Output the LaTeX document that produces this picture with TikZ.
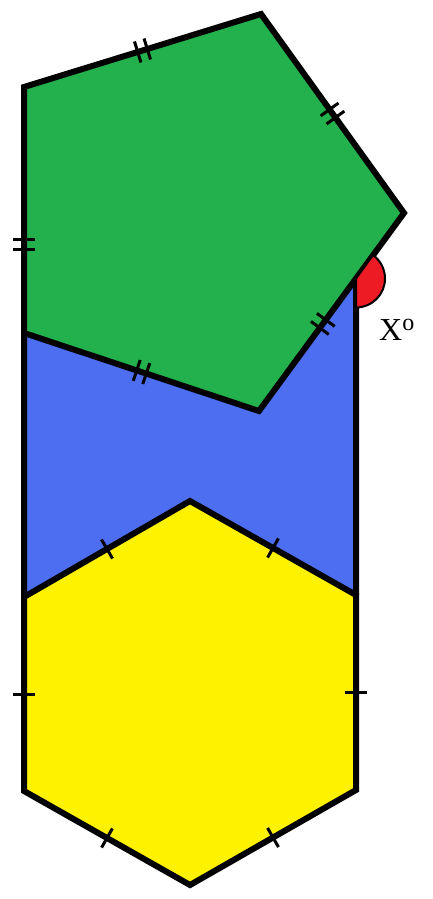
\documentclass[tikz,border=0pt]{standalone}
\usepackage{tikz}
\usepackage{fontspec}
\usetikzlibrary{calc}
\newfontfamily\labelfont{Liberation Serif}
\definecolor{pentgreen}{RGB}{34,177,76}
\definecolor{rectblue}{RGB}{77,110,241}
\definecolor{hexyellow}{RGB}{255,242,0}
\definecolor{anglered}{RGB}{237,28,36}

\begin{document}
\begin{tikzpicture}[x=1pt,y=-1pt,line join=miter,
side/.style={draw=black,line width=6pt},
tickline/.style={draw=black,line width=3pt},
angmark/.style={fill=anglered,draw=black,line width=2pt}]
\useasboundingbox (0,0) rectangle (432,899);
% pentagon
\coordinate (p1) at (24,87);
\coordinate (p2) at (261,14);
\coordinate (p3) at (404,213);
\coordinate (p4) at (259,411);
\coordinate (p5) at (24,333);
% hexagon
\coordinate (h1) at (190,501);
\coordinate (h2) at (356,595);
\coordinate (h3) at (356,790);
\coordinate (h4) at (190,885);
\coordinate (h5) at (24,791);
\coordinate (h6) at (24,597);
\coordinate (q) at ($(p3)!0.331!(p4)$);
% blue part between them
\fill[rectblue] (p5) -- (h6) -- (h1) -- (h2) -- (q) -- (p4) -- cycle;
\draw[side] (p5) -- (h6) (q) -- (h2);
\filldraw[side,fill=pentgreen] (p1) -- (p2) -- (p3) -- (p4) -- (p5) -- cycle;
\filldraw[side,fill=hexyellow] (h1) -- (h2) -- (h3) -- (h4) -- (h5) -- (h6) -- cycle;
% ticks
\foreach \a/\b in {h6/h1,h1/h2,h2/h3,h3/h4,h4/h5,h5/h6}
\draw[tickline] ($(\a)!0.5!(\b)!11pt!90:(\b)$) -- ($(\a)!0.5!(\b)!11pt!-90:(\b)$);
\foreach \a/\b/\t in {p1/p2/0.5,p2/p3/0.5,p3/p4/0.56,p4/p5/0.5,p5/p1/0.36}
\foreach \s in {-5pt,5pt}
\draw[tickline] ($(\a)!\t!(\b)!\s!(\b)!11pt!90:(\b)$) -- ($(\a)!\t!(\b)!\s!(\b)!11pt!-90:(\b)$);
% angle x
\filldraw[angmark] (q) -- ++(-90:29pt) arc[start angle=-90,end angle=54,radius=29pt] -- cycle;
\node[anchor=base west,inner sep=0pt,font=\labelfont\fontsize{32}{36}\selectfont] (xlab) at (379,340) {X\raisebox{10pt}{\fontsize{24}{28}\selectfont o}};
\end{tikzpicture}
\end{document}
